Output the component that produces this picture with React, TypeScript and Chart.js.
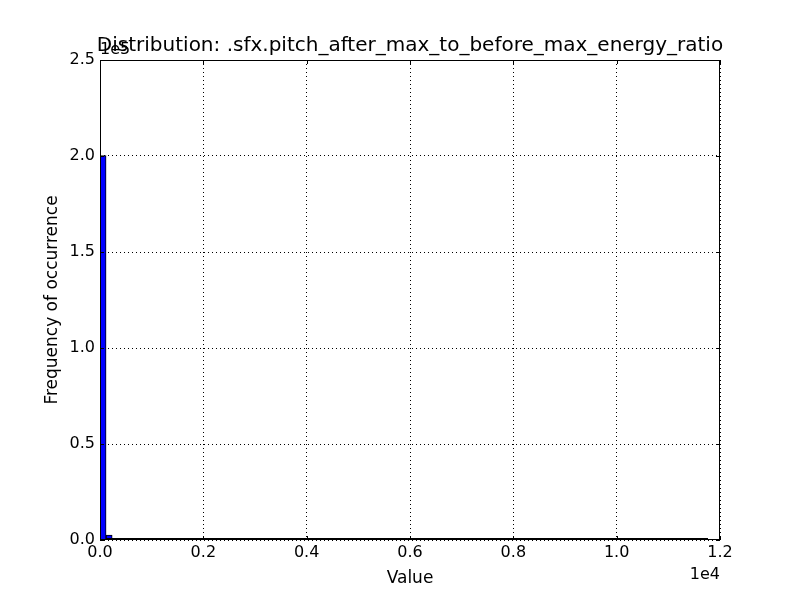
import React, { useEffect, useRef } from "react";
import { Chart, registerables } from "chart.js";

Chart.register(...registerables);

const TITLE = "Distribution: .sfx.pitch_after_max_to_before_max_energy_ratio";
const X_LABEL = "Value";
const Y_LABEL = "Frequency of occurrence";
const X_OFFSET_TEXT = "1e4";
const Y_OFFSET_TEXT = "1e5";

const BIN_MIN = 0;
const BIN_MAX = 11768;
const COUNTS = [
  200200, 2600, 700, 250, 130, 80, 50, 35, 25, 18,
  12, 10, 8, 6, 5, 4, 3, 3, 2, 2,
  2, 1, 1, 1, 1, 1, 0, 1, 0, 0,
  1, 0, 0, 0, 1, 0, 0, 0, 0, 0,
  0, 0, 0, 0, 0, 0, 0, 0, 0, 0,
  0, 0, 0, 0, 0, 0, 0, 0, 0, 0,
  0, 0, 0, 0, 0, 0, 0, 0, 0, 0,
  0, 0, 0, 0, 0, 0, 0, 0, 0, 0,
  0, 0, 0, 0, 0, 0, 0, 0, 0, 0,
  0, 0, 0, 0, 0, 0, 0, 0, 0, 1,
];

const X_TICKS = [0, 2000, 4000, 6000, 8000, 10000, 12000];
const Y_TICKS = [0, 50000, 100000, 150000, 200000, 250000];
const X_SCALE = 1e4;
const Y_SCALE = 1e5;

const FONT = "'DejaVu Sans', sans-serif";

const framePlugin = {
  id: "mplFrame",
  afterDraw(chart: any) {
    const { ctx, chartArea, scales } = chart;
    const { left, right, top, bottom } = chartArea;
    const xs = scales.x;
    const ys = scales.y;
    ctx.save();
    // baseline from zero-height bar edges
    const binW = (BIN_MAX - BIN_MIN) / COUNTS.length;
    ctx.strokeStyle = "#000";
    ctx.lineWidth = 1;
    ctx.beginPath();
    const y0 = Math.round(ys.getPixelForValue(0)) - 1.5;
    ctx.moveTo(xs.getPixelForValue(BIN_MIN + binW), y0);
    ctx.lineTo(xs.getPixelForValue(BIN_MAX), y0);
    ctx.stroke();

    // frame
    ctx.lineWidth = 1;
    ctx.strokeRect(Math.round(left) + 0.5, Math.round(top) + 0.5, Math.round(right - left) - 1, Math.round(bottom - top) - 1);

    // inward ticks
    const tl = 4;
    ctx.beginPath();
    X_TICKS.forEach((v) => {
      const px = Math.round(xs.getPixelForValue(v)) + 0.5;
      ctx.moveTo(px, bottom);
      ctx.lineTo(px, bottom - tl);
      ctx.moveTo(px, top);
      ctx.lineTo(px, top + tl);
    });
    Y_TICKS.forEach((v) => {
      const py = Math.round(ys.getPixelForValue(v)) + 0.5;
      ctx.moveTo(left, py);
      ctx.lineTo(left + tl, py);
      ctx.moveTo(right, py);
      ctx.lineTo(right - tl, py);
    });
    ctx.stroke();

    // texts
    ctx.fillStyle = "#000";
    ctx.font = `20px ${FONT}`;
    ctx.textAlign = "center";
    ctx.textBaseline = "middle";
    ctx.fillText(TITLE, (left + right) / 2, 46);

    ctx.font = `16px ${FONT}`;
    ctx.textAlign = "left";
    ctx.textBaseline = "alphabetic";
    ctx.fillText(Y_OFFSET_TEXT, left, top - 6);
    ctx.textAlign = "right";
    ctx.textBaseline = "top";
    ctx.fillText(X_OFFSET_TEXT, right, bottom + 27);
    ctx.restore();
  },
};

export default function App() {
  const ref = useRef<HTMLCanvasElement | null>(null);
  useEffect(() => {
    if (!ref.current) return;
    const binW = (BIN_MAX - BIN_MIN) / COUNTS.length;
    const data = COUNTS.map((c, i) => ({ x: BIN_MIN + (i + 0.5) * binW, y: c }));
    const chart = new Chart(ref.current, {
      type: "bar",
      data: {
        datasets: [
          {
            data: data as any,
            backgroundColor: "#0000ff",
            borderColor: "#000000",
            borderWidth: 1,
            borderSkipped: "start",
            barPercentage: 1,
            categoryPercentage: 1,
            grouped: false,
          },
        ],
      },
      options: {
        animation: false,
        responsive: false,
        devicePixelRatio: 1,
        layout: { padding: { top: 60, right: 80, left: 0, bottom: 0 } },
        plugins: {
          legend: { display: false },
          tooltip: { enabled: false },
          title: { display: false },
        },
        scales: {
          x: {
            type: "linear",
            min: 0,
            max: 12000,
            offset: false,
            afterBuildTicks: (s: any) => {
              s.ticks = X_TICKS.map((v) => ({ value: v }));
            },
            afterFit: (s: any) => {
              s.height = 60;
            },
            ticks: {
              autoSkip: false,
              maxRotation: 0,
              padding: 3,
              color: "#000",
              font: { family: FONT, size: 16 },
              callback: (v: any) => (Number(v) / X_SCALE).toFixed(1),
            },
            grid: {
              offset: false,
              color: "#000",
              lineWidth: 1,
              drawTicks: false,
            },
            border: { display: false, dash: [1, 3] },
            title: {
              display: true,
              text: X_LABEL,
              color: "#000",
              font: { family: FONT, size: 17 },
              padding: { top: 0, bottom: 11 },
            },
          },
          y: {
            type: "linear",
            min: 0,
            max: 250000,
            afterBuildTicks: (s: any) => {
              s.ticks = Y_TICKS.map((v) => ({ value: v }));
            },
            afterFit: (s: any) => {
              s.width = 100;
            },
            ticks: {
              autoSkip: false,
              padding: 5,
              color: "#000",
              font: { family: FONT, size: 16 },
              callback: (v: any) => (Number(v) / Y_SCALE).toFixed(1),
            },
            grid: {
              offset: false,
              color: "#000",
              lineWidth: 1,
              drawTicks: false,
            },
            border: { display: false, dash: [1, 3] },
            title: {
              display: true,
              text: Y_LABEL,
              color: "#000",
              font: { family: FONT, size: 17 },
              padding: { top: 42, bottom: 0 },
            },
          },
        },
      },
      plugins: [framePlugin],
    });
    return () => chart.destroy();
  }, []);
  return (
    <div style={{ position: "fixed", left: 0, top: 0, width: 800, height: 600, background: "#fff" }}>
      <canvas ref={ref} width={800} height={600} style={{ display: "block" }} />
    </div>
  );
}
